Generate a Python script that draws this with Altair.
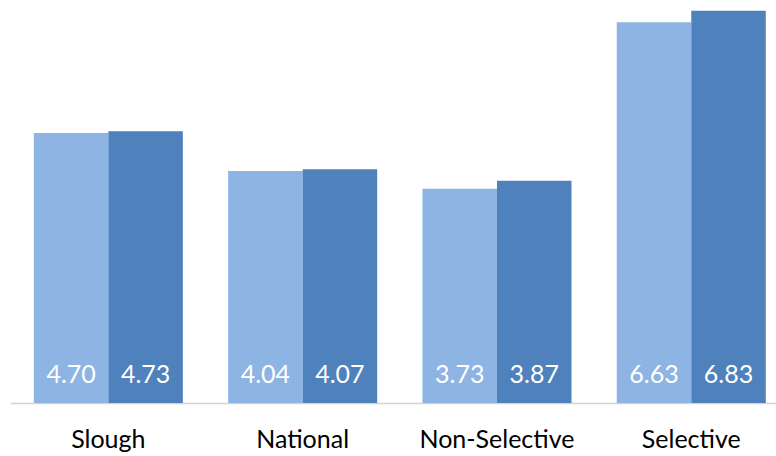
import altair as alt
import pandas as pd

categories = ["Slough", "National", "Non-Selective", "Selective"]
series = ["Series 1", "Series 2"]
values_1 = [4.70, 4.04, 3.73, 6.63]
values_2 = [4.73, 4.07, 3.87, 6.83]
colors = ["#8EB4E3", "#4F81BD"]

rows = []
for c, a, b in zip(categories, values_1, values_2):
    rows.append({"cat": c, "series": series[0], "value": a})
    rows.append({"cat": c, "series": series[1], "value": b})
df = pd.DataFrame(rows)

base = alt.Chart(df).encode(
    x=alt.X(
        "cat:N",
        sort=categories,
        scale=alt.Scale(paddingInner=0.233, paddingOuter=0.0876, align=0.70),
        axis=alt.Axis(
            title=None,
            labelAngle=0,
            ticks=False,
            domainColor="#D4D4D4",
            domainWidth=1.5,
            labelFont="Lato",
            labelFontSize=25,
            labelColor="#000000",
            labelPadding=24,
        ),
    ),
    xOffset=alt.XOffset("series:N", sort=series, scale=alt.Scale(paddingInner=0, paddingOuter=0)),
    y=alt.Y("value:Q", scale=alt.Scale(domain=[0, 7], nice=False, zero=True), axis=None),
)

bars = base.mark_bar(stroke=None).encode(
    color=alt.Color("series:N", sort=series, scale=alt.Scale(domain=series, range=colors), legend=None)
)

labels = base.mark_text(
    color="white", baseline="alphabetic", align="center", dy=-20, font="Lato", fontSize=25
).encode(y=alt.datum(0), text=alt.Text("value:Q", format=".2f"))

chart = (
    alt.layer(bars, labels)
    .properties(
        width=766,
        height=402,
        autosize=alt.AutoSizeParams(type="none"),
        padding={"left": 10, "top": 1, "right": 0, "bottom": 53},
        background="white",
    )
    .configure_view(stroke=None)
)

chart.save("out.html", embed_options={"renderer": "svg", "actions": False})
